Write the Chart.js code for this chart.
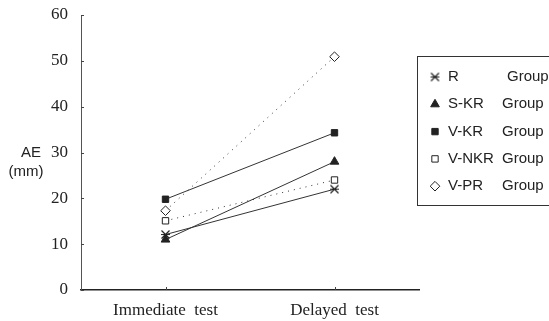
<!DOCTYPE html>
<html>
<head>
<meta charset="utf-8">
<script src="https://cdn.jsdelivr.net/npm/chart.js@4/dist/chart.umd.min.js"></script>
<style>
html,body{margin:0;padding:0;background:#fff;}
#wrap{position:relative;width:549px;height:321px;}
</style>
</head>
<body>
<div id="wrap"><canvas id="c" width="549" height="321"></canvas></div>
<script>
// ---- data ----
const categories = ['Immediate  test', 'Delayed  test'];
const groupNames = ['R', 'S-KR', 'V-KR', 'V-NKR', 'V-PR'];
const rValues    = [12.1, 22.0];
const skrValues  = [11.0, 28.0];
const vkrValues  = [19.8, 34.3];
const vnkrValues = [15.1, 24.0];
const vprValues  = [17.3, 50.9];
const yTicks     = [0, 10, 20, 30, 40, 50, 60];
const yTitle     = ['AE', '(mm)'];
const groupWord  = 'Group';

// custom marker for R group (X with horizontal bar)
function makeRMarker() {
  const cv = document.createElement('canvas');
  cv.width = 11; cv.height = 11;
  const g = cv.getContext('2d');
  g.strokeStyle = '#222'; g.lineWidth = 1.2;
  g.beginPath();
  g.moveTo(1.5, 1.5); g.lineTo(9.5, 9.5);
  g.moveTo(9.5, 1.5); g.lineTo(1.5, 9.5);
  g.moveTo(1, 5.5); g.lineTo(10, 5.5);
  g.stroke();
  return cv;
}
const rMarker = makeRMarker();

const ink = '#222';
const series = [
  {data: rValues,    style: rMarker,     fill: ink,    dash: [],     radius: 5},
  {data: skrValues,  style: 'triangle',  fill: ink,    dash: [],     radius: 5},
  {data: vkrValues,  style: 'rect',      fill: ink,    dash: [],     radius: 4.5},
  {data: vnkrValues, style: 'rect',      fill: '#fff', dash: [1, 5], radius: 4.5},
  {data: vprValues,  style: 'rectRot',   fill: '#fff', dash: [1, 5], radius: 4.8}
];

const datasets = series.map((s, i) => ({
  label: groupNames[i] + ' ' + groupWord,
  data: s.data,
  borderColor: '#333',
  borderWidth: 1,
  borderDash: s.dash,
  pointStyle: s.style,
  pointRadius: s.radius,
  pointBackgroundColor: s.fill,
  pointBorderColor: ink,
  pointBorderWidth: 1,
  tension: 0,
  fill: false
}));

const decor = {
  id: 'decor',
  afterDraw(chart) {
    const ctx = chart.ctx;
    const ys = chart.scales.y, xs = chart.scales.x;
    ctx.save();
    // inward tick marks on y axis
    ctx.strokeStyle = '#444'; ctx.lineWidth = 1;
    yTicks.forEach(v => {
      const y = Math.round(ys.getPixelForValue(v)) + 0.5;
      ctx.beginPath(); ctx.moveTo(ys.right, y); ctx.lineTo(ys.right + 3, y); ctx.stroke();
    });
    // inward tick marks on x axis
    categories.forEach((c, i) => {
      const x = Math.round(xs.getPixelForValue(i)) + 0.5;
      ctx.beginPath(); ctx.moveTo(x, xs.top); ctx.lineTo(x, xs.top - 3); ctx.stroke();
    });
    // y title
    ctx.fillStyle = ink;
    ctx.font = '15px "Liberation Sans", Arial, sans-serif';
    ctx.textBaseline = 'middle';
    ctx.textAlign = 'right';
    ctx.fillText(yTitle[0], 41, ys.getPixelForValue(30));
    ctx.textAlign = 'center';
    ctx.fillText(yTitle[1], 26, ys.getPixelForValue(30) + 19);
    // legend box
    const bx = 417.5, by = 56.5, bw = 170, bh = 149;
    ctx.strokeStyle = '#333'; ctx.lineWidth = 1;
    ctx.strokeRect(bx, by, bw, bh);
    ctx.font = '15px "Liberation Sans", Arial, sans-serif';
    ctx.textAlign = 'left';
    chart.data.datasets.forEach((ds, i) => {
      const y = 77 + i * 27.3;
      ctx.fillStyle = ds.pointBackgroundColor;
      ctx.strokeStyle = ink;
      ctx.lineWidth = 1;
      Chart.helpers.drawPoint(ctx, {pointStyle: ds.pointStyle, radius: ds.pointRadius, rotation: 0, borderWidth: 1}, 435, y);
      ctx.fillStyle = ink;
      ctx.fillText(groupNames[i], 448, y);
      ctx.fillText(groupWord, i === 0 ? 507 : 502, y);
    });
    ctx.restore();
  }
};

new Chart(document.getElementById('c'), {
  type: 'line',
  data: {labels: categories, datasets},
  options: {
    responsive: false,
    animation: false,
    devicePixelRatio: 1,
    layout: {padding: {top: 15, right: 130, bottom: 0, left: 0}},
    plugins: {legend: {display: false}, tooltip: {enabled: false}},
    scales: {
      x: {
        type: 'category',
        offset: true,
        grid: {display: false, drawTicks: false},
        border: {display: true, color: '#222', width: 1.5},
        ticks: {
          color: ink,
          padding: 10,
          font: {family: '"Liberation Serif", "Times New Roman", serif', size: 17}
        },
        afterFit(s) { s.height = 31; s.paddingLeft = 0; s.paddingRight = 0; }
      },
      y: {
        min: 0, max: 60,
        afterBuildTicks(s) { s.ticks = yTicks.map(v => ({value: v})); },
        grid: {display: false, drawTicks: false},
        border: {display: true, color: '#555', width: 1},
        ticks: {
          color: ink,
          padding: 13,
          font: {family: '"Liberation Serif", "Times New Roman", serif', size: 17}
        },
        afterFit(s) { s.width = 81; s.paddingTop = 0; s.paddingBottom = 0; }
      }
    }
  },
  plugins: [decor]
});
</script>
</body>
</html>
